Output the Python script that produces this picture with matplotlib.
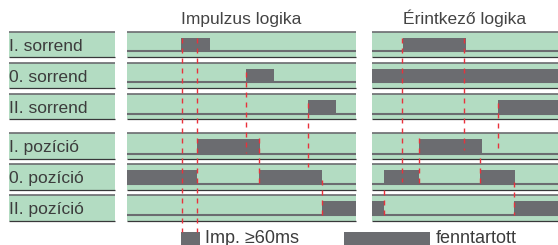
import matplotlib
matplotlib.use('Agg')
import matplotlib.pyplot as plt
from matplotlib.patches import Rectangle

plt.rcParams['font.family'] = ['Liberation Sans', 'DejaVu Sans']

W, H = 558, 245

row_labels = ['I. sorrend', '0. sorrend', 'II. sorrend',
              'I. pozíció', '0. pozíció', 'II. pozíció']
titles = ['Impulzus logika', 'Érintkező logika']
legend_labels = ['Imp. ≥60ms', 'fenntartott']

# high-level intervals for each row (time in panel units)
imp_high = [
    [(54, 83)],
    [(119, 147)],
    [(181, 209)],
    [(70, 133)],
    [(0, 70), (132, 195)],
    [(195, 229)],
]
con_high = [
    [(31, 94)],
    [(0, 186)],
    [(126, 186)],
    [(47, 110)],
    [(12, 47), (108, 143)],
    [(0, 12), (142, 186)],
]
# red dashed markers: (time, y from, y to)
imp_marks = [(55, 38, 232), (70, 38, 232), (119, 72, 153),
             (132, 138, 183), (181, 103, 167), (195, 180, 215)]
con_marks = [(30, 38, 182), (92, 38, 150), (126, 103, 150),
             (47, 138, 183), (108, 158, 183), (142, 182, 215), (12, 190, 215)]

# layout (pixels)
row_top = [32, 63, 94, 133, 164, 195]
row_h = [25, 25, 25, 26, 26, 26]
row_base = [18, 18, 19, 20, 19, 19]
panels = [(127, 229), (372, 186)]

green = '#b3dcc2'
grey = '#6b6c70'
dark = '#38383a'
red = '#e8323c'
txt = '#3c3c3c'

fig = plt.figure(figsize=(W / 100, H / 100), dpi=100)
bg = fig.add_axes([0, 0, 1, 1])
bg.set_xlim(0, W)
bg.set_ylim(H, 0)
bg.axis('off')

# label column
for i, lab in enumerate(row_labels):
    top = row_top[i]
    h = row_h[i]
    bg.add_patch(Rectangle((9, top), 106, h, fc=green, ec='none'))
    bg.hlines(top, 9, 115, color=grey, lw=1.2)
    bg.hlines(top + h, 9, 115, color=dark, lw=0.9)
    bg.text(9, top + 18.5, lab, fontsize=12.5, color=txt, va='baseline', ha='left')


def draw_panel(x0, width, highs, marks, title):
    ax = fig.add_axes([x0 / W, 0, width / W, 1])
    ax.set_xlim(0, width)
    ax.set_ylim(H, 0)
    ax.axis('off')
    for i, top in enumerate(row_top):
        h = row_h[i]
        b = row_base[i]
        ax.add_patch(Rectangle((0, top), width, h, fc=green, ec='none', clip_on=False))
        ax.hlines(top, 0, width, color=grey, lw=1.2, clip_on=False)
        ax.hlines(top + h, 0, width, color=dark, lw=0.9, clip_on=False)
        ax.hlines(top + b + 1, 0, width, color=grey, lw=1.5, clip_on=False)
        for a, e in highs[i]:
            ax.add_patch(Rectangle((a, top + 6), e - a, b - 6, fc=grey, ec='none',
                                   clip_on=False, zorder=3))
    for t, y0, y1 in marks:
        ax.vlines(t, y0, y1, color=red, lw=1.0, linestyles=(0, (3.6, 3.6)),
                  zorder=5, clip_on=False)
    ax.text(width / 2, 24, title, fontsize=12.5, color='#444444',
            ha='center', va='baseline')


draw_panel(panels[0][0], panels[0][1], imp_high, imp_marks, titles[0])
draw_panel(panels[1][0], panels[1][1], con_high, con_marks, titles[1])

# legend
bg.add_patch(Rectangle((181, 232), 19, 14, fc=grey, ec='none', clip_on=False))
bg.text(205, 243, legend_labels[0], fontsize=13, color=txt, va='baseline')
bg.add_patch(Rectangle((344, 232), 86, 14, fc=grey, ec='none', clip_on=False))
bg.text(436, 243, legend_labels[1], fontsize=13, color=txt, va='baseline')

fig.savefig('out.png', dpi=100)
